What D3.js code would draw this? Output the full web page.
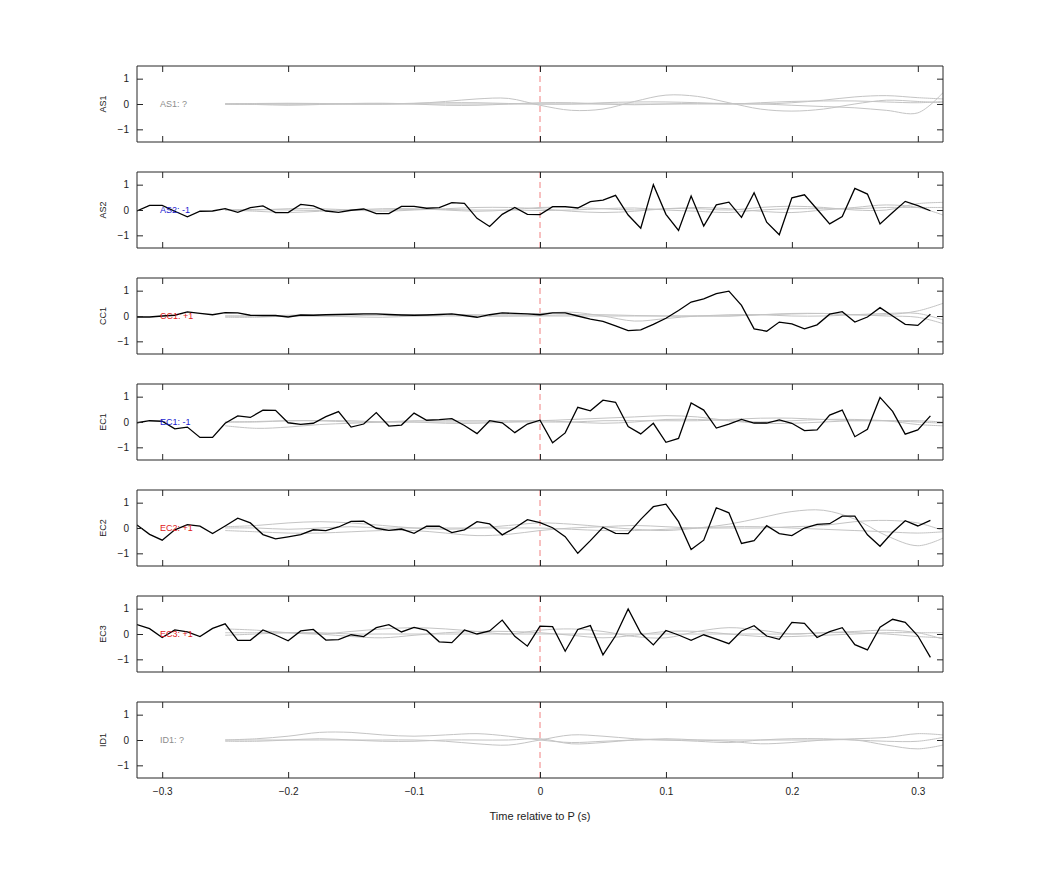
<!DOCTYPE html>
<html><head><meta charset="utf-8">
<script src="https://cdn.jsdelivr.net/npm/d3@7"></script>
<style>body{margin:0;background:#fff}svg{font-family:Helvetica,"Liberation Sans",Arial,sans-serif}</style>
</head><body><svg id="c" width="1042" height="875"></svg>
<script>
const panels = ["AS1","AS2","CC1","EC1","EC2","EC3","ID1"];
const labels = ["AS1: ?","AS2: -1","CC1: +1","EC1: -1","EC2: +1","EC3: +1","ID1: ?"];
const signs = ["?","-1","+1","-1","+1","+1","?"];
const xTicks = [-0.3,-0.2,-0.1,0,0.1,0.2,0.3];
const yTicks = [-1,0,1];
const blackT = d3.range(64).map(i => Math.round((-0.32 + i*0.01)*100)/100);
const grayT = [-0.25,-0.225,-0.2,-0.175,-0.15,-0.125,-0.1,-0.075,-0.05,-0.025,0,0.025,0.05,0.075,0.1,0.125,0.15,0.175,0.2,0.225,0.25,0.275,0.3,0.32];

const blackAS2 = [-0.04,0.18,0.18,-0.05,-0.27,-0.05,-0.04,0.05,-0.09,0.09,0.16,-0.1,-0.1,0.22,0.16,-0.04,-0.09,-0.01,0.04,-0.14,-0.14,0.14,0.14,0.07,0.09,0.29,0.26,-0.33,-0.65,-0.17,0.1,-0.17,-0.18,
 0.13,0.13,0.08,0.33,0.39,0.58,-0.2,-0.72,1.0,-0.17,-0.81,0.55,-0.63,0.2,0.31,-0.29,0.68,-0.48,-0.98,0.48,0.6,0.03,-0.55,-0.26,0.85,0.63,-0.55,-0.1,0.34,0.17,-0.03];
const blackCC1 = [-0.04,-0.04,0,0.03,0.16,0.1,0.05,0.13,0.12,0.03,0.02,0.02,-0.04,0.04,0.03,0.05,0.06,0.07,0.08,0.08,0.06,0.04,0.03,0.04,0.06,0.08,0.02,-0.05,0.05,0.12,0.1,0.08,0.05,
 0.12,0.12,0,-0.12,-0.21,-0.39,-0.58,-0.55,-0.33,-0.09,0.22,0.55,0.68,0.88,0.98,0.42,-0.51,-0.6,-0.24,-0.31,-0.51,-0.35,0.07,0.17,-0.24,-0.04,0.33,0,-0.33,-0.37,0.07];
const blackEC1 = [-0.03,0.05,0.03,-0.27,-0.2,-0.61,-0.61,-0.05,0.24,0.18,0.47,0.46,-0.03,-0.09,-0.05,0.21,0.41,-0.2,-0.08,0.37,-0.16,-0.12,0.35,0.07,0.09,0.13,-0.14,-0.46,0.05,-0.03,-0.42,-0.08,0.07,
 -0.82,-0.43,0.58,0.44,0.86,0.78,-0.18,-0.47,-0.05,-0.8,-0.65,0.75,0.47,-0.24,-0.08,0.1,-0.04,-0.04,0.08,-0.05,-0.34,-0.31,0.27,0.47,-0.58,-0.29,0.97,0.42,-0.48,-0.31,0.24];
const blackEC2 = [0.12,-0.25,-0.48,-0.07,0.13,0.07,-0.22,0.08,0.39,0.2,-0.26,-0.43,-0.35,-0.26,-0.07,-0.1,0.04,0.26,0.27,-0.01,-0.09,-0.04,-0.21,0.07,0.07,-0.18,-0.07,0.25,0.16,-0.27,0,0.33,0.21,
 0.01,-0.34,-1.0,-0.5,0.03,-0.21,-0.22,0.34,0.84,0.94,0.25,-0.85,-0.48,0.8,0.6,-0.61,-0.5,0.09,-0.22,-0.3,0,0.14,0.17,0.47,0.47,-0.27,-0.72,-0.17,0.29,0.08,0.3];
const blackEC3 = [0.37,0.21,-0.14,0.16,0.08,-0.1,0.22,0.4,-0.25,-0.25,0.16,-0.04,-0.27,0.12,0.18,-0.24,-0.22,-0.03,-0.1,0.25,0.37,0.08,0.26,0.14,-0.31,-0.34,0.16,0,0.12,0.55,-0.09,-0.48,0.31,
 0.29,-0.68,0.18,0.33,-0.82,-0.07,0.99,0.04,-0.43,0.14,-0.04,-0.25,-0.03,-0.2,-0.38,0.12,0.33,-0.08,-0.21,0.46,0.42,-0.14,0.09,0.25,-0.42,-0.63,0.27,0.58,0.46,-0.07,-0.92];
const blackSeries = [null, blackAS2, blackCC1, blackEC1, blackEC2, blackEC3, null];

const grayAS1 = [
 [0,0,0,0,0,0,0.02,0.1,0.2,0.22,-0.05,-0.25,-0.2,0.1,0.35,0.3,0.05,-0.2,-0.28,-0.2,0,0.15,0.1,0.05],
 [0,-0.02,-0.05,-0.02,0.02,0.03,0,-0.05,-0.05,0,0.05,0.05,0,-0.03,0,0.03,0.02,0,0.05,0.15,0.28,0.33,0.25,0.2],
 [0,0,0,0,0,0,0,0,0,0,0,0,0,0,0,0,0,0,-0.05,-0.1,-0.15,-0.25,-0.35,0.45],
 [0,0.02,0.03,0.02,0,0,0.03,0.05,0.05,0.02,0,0,0.05,0.08,0.08,0.05,0,0.05,0.1,0.12,0.12,0.08,0.05,0.1]];
const grayAS2 = [
 [0,-0.05,-0.1,-0.05,0,0.05,0.05,0,-0.05,0,0.1,0.1,0.05,0,0.05,0.1,0.05,-0.05,-0.1,0,0.1,0.2,0.1,-0.2],
 [0,0,0.05,0.05,0,-0.05,0,0.05,0.1,0.1,0.05,-0.05,-0.1,-0.05,0.05,0.05,0,0.1,0.15,0.1,0,0,0.25,0.3],
 [0,0.02,0,-0.02,0,0,0.02,0.02,0,0,-0.02,0,0.05,0.08,0,-0.05,-0.1,0,0.05,0.05,0.05,0.1,0.1,0.1]];
const grayCC1 = [
 [0,0,0,0,0,0.05,0.05,0.05,0,0,0.02,0.05,0.05,0.02,0,0,0,0.05,0.1,0.1,0.05,0.05,0.2,0.5],
 [-0.05,-0.05,0,0,-0.03,-0.05,0,0.05,0.05,0.05,0.1,0.15,0,-0.2,-0.1,0,0,0.05,0.08,0.1,0.05,0,-0.05,-0.3],
 [0,0,0.03,0.05,0.05,0.03,0,0,0,0,0,0,0,0,0,0,0.05,0.05,0,0,0.05,0.1,0.1,-0.15]];
const grayEC1 = [
 [-0.15,-0.25,-0.2,-0.1,-0.05,0,0.05,0.05,0.05,0.05,0.05,0.1,0.15,0.2,0.25,0.2,0.05,-0.05,-0.05,0,0.05,0.05,0,-0.05],
 [0,0,0.05,0.05,0.05,0,0,0,0,0,0,0,0.05,0.05,0.05,0.05,0.1,0.15,0.15,0.1,0.05,0.05,0.05,0],
 [0,0.02,0.05,0.05,0,0,0,-0.05,-0.05,0,0.05,0,-0.05,0,0.1,0.1,0.05,0,0.05,0.1,0.1,0.05,-0.1,-0.15]];
const grayEC2 = [
 [0.05,0.1,0.2,0.25,0.2,0.1,0,-0.05,0,0.1,0.2,0.15,0.05,-0.05,-0.1,0,0.15,0.4,0.65,0.7,0.35,-0.3,-0.7,-0.4],
 [-0.1,-0.15,-0.2,-0.2,-0.15,-0.1,-0.1,-0.2,-0.3,-0.25,-0.1,0,0.05,0.1,0.05,0,0,0,0.05,0.1,0.25,0.3,0.2,-0.1],
 [0,0,-0.05,0,0.05,0,0,0,0,0,0,-0.05,-0.1,-0.1,-0.05,0,0.05,0.05,0,-0.05,-0.1,-0.15,-0.2,-0.15]];
const grayEC3 = [
 [0.2,0.15,0.05,0,0.1,0.2,0.25,0.2,0.1,0,0.15,0.2,0.1,-0.1,-0.15,0.1,0.25,0.15,0,0.05,0.05,0,-0.1,-0.15],
 [-0.05,0,0.05,0,-0.1,-0.15,-0.05,0.05,0.1,0.1,0.05,-0.05,-0.15,-0.05,0.1,0.1,0,-0.1,-0.1,-0.05,0,0.05,0.05,0.05],
 [0.05,0.05,0.05,0.05,0,0,0,0,0,0,0,0,0,0,0,0,0,0,0,0.05,0.1,0.15,0.05,-0.2]];
const grayID1 = [
 [0,0.05,0.15,0.3,0.3,0.2,0.15,0.2,0.25,0.15,0,-0.1,-0.05,0,0.05,0,-0.05,-0.15,-0.1,0,0.05,0.1,0.25,0.2],
 [0,0,0,0,0,0,0,-0.05,-0.15,-0.2,0,0.2,0.15,0.05,0,0,0,0,0,0,0,-0.2,-0.35,-0.2],
 [-0.05,-0.05,0,0.05,0,-0.05,-0.05,0,0,0,0.05,-0.15,-0.1,0,0,-0.05,-0.1,0,0.05,0.05,0,-0.05,-0.05,0.1]];
const graySeries = [grayAS1, grayAS2, grayCC1, grayEC1, grayEC2, grayEC3, grayID1];
const labelColors = {"?":"#8c8c8c","-1":"#1a1ad0","+1":"#e02020"};

const svg = d3.select("#c");
const L = 137, R = 943, H = 76, top0 = 66, gap = 106;
const x = d3.scaleLinear().domain([-0.32,0.32]).range([L,R]);
const frame = "#262626";

panels.forEach((name,i) => {
  const t = top0 + i*gap;
  const y = d3.scaleLinear().domain([-1.5,1.5]).range([t+H,t]);
  const g = svg.append("g");
  const clipId = "clip"+i;
  svg.append("clipPath").attr("id",clipId).append("rect").attr("x",L).attr("y",t).attr("width",R-L).attr("height",H);
  const plot = g.append("g").attr("clip-path",`url(#${clipId})`);
  plot.append("line").attr("x1",x(0)).attr("x2",x(0)).attr("y1",t).attr("y2",t+H)
    .attr("stroke","#f08080").attr("stroke-dasharray","6,4").attr("stroke-width",1);
  const gl = d3.line().x((d,k)=>x(grayT[k])).y(d=>y(d)).curve(d3.curveCatmullRom);
  graySeries[i].forEach(s => plot.append("path").attr("d",gl(s)).attr("fill","none").attr("stroke","#c4c4c4").attr("stroke-width",1));
  if (blackSeries[i]) {
    const bl = d3.line().x((d,k)=>x(blackT[k])).y(d=>y(d));
    plot.append("path").attr("d",bl(blackSeries[i])).attr("fill","none").attr("stroke","#000").attr("stroke-width",1.3);
  }
  g.append("text").attr("x",160).attr("y",y(0)+3).attr("font-size",9).attr("fill",labelColors[signs[i]]).text(labels[i]);
  // axes
  const ax = [
    d3.axisBottom(x).tickValues(xTicks).tickSize(-6).tickFormat(i===6? d3.format(""):""),
    d3.axisTop(x).tickValues(xTicks).tickSize(-6).tickFormat(""),
    d3.axisLeft(y).tickValues(yTicks).tickSize(-6).tickFormat(d3.format("")),
    d3.axisRight(y).tickValues(yTicks).tickSize(-6).tickFormat("")];
  const pos = [`translate(0,${t+H})`,`translate(0,${t})`,`translate(${L},0)`,`translate(${R},0)`];
  ax.forEach((a,k) => {
    const ga = g.append("g").attr("transform",pos[k]).call(a.tickPadding(k===0?10:8));
    ga.selectAll("path,line").attr("stroke",frame).attr("stroke-width",1);
    ga.select(".domain").attr("d", k<2 ? `M${L},0H${R}` : `M0,${t}V${t+H}`);
    ga.selectAll("text").attr("font-size",10).attr("fill","#222").style("font-family","Helvetica,'Liberation Sans',Arial,sans-serif");
  });
  g.append("text").attr("transform",`translate(106,${t+H/2}) rotate(-90)`).attr("text-anchor","middle")
    .attr("font-size",9).attr("fill","#222").text(name);
});
svg.append("text").attr("x",(L+R)/2).attr("y",820).attr("text-anchor","middle").attr("font-size",11).attr("fill","#222").text("Time relative to P (s)");
</script></body></html>
